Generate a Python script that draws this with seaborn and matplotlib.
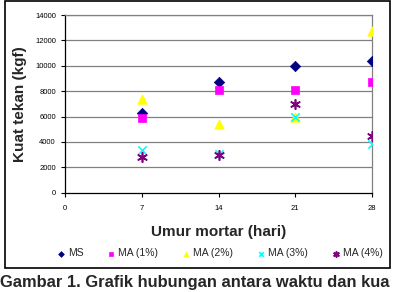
import matplotlib
matplotlib.use("Agg")
import matplotlib.pyplot as plt
import seaborn as sns
import pandas as pd
from matplotlib.patches import Rectangle

# umur mortar (hari) dan kuat tekan (kgf)
umur = [7, 14, 21, 28]
ms = [6250, 8700, 10000, 10350]
ma1 = [5850, 8070, 8080, 8740]
ma2 = [7420, 5420, 5980, 12720]
ma3 = [3400, 3050, 5990, 3840]
ma4 = [2780, 3000, 7010, 4480]

series = ["MS", "MA (1%)", "MA (2%)", "MA (3%)", "MA (4%)"]
colors = ["#000080", "#FF00FF", "#FFFF00", "#00FFFF", "#800080"]
markers = ["D", "s", "^", "x", (6, 2, 0)]
sizes = [28, 36, 46, 36, 46]

sns.set_style("white")
plt.rcParams["font.family"] = ["Liberation Sans", "DejaVu Sans"]

W, H = 396, 292
fig = plt.figure(figsize=(W / 100, H / 100), dpi=100)

# outer chart frame
fig.patches.append(Rectangle((5 / W, (H - 268) / H), 385 / W, 267 / H,
                             transform=fig.transFigure, fill=False,
                             edgecolor="black", linewidth=1.2))

ax = fig.add_axes([65 / W, (H - 192.7) / H, 307 / W, 177.7 / H])

for name, vals, c, m, s in zip(series, [ms, ma1, ma2, ma3, ma4], colors, markers, sizes):
    df = pd.DataFrame({"umur": umur, "kuat": vals})
    if m in ("x",) or isinstance(m, tuple):
        sns.scatterplot(data=df, x="umur", y="kuat", ax=ax, color=c, marker=m,
                        s=s, linewidth=1.2, label=name, zorder=3)
    else:
        sns.scatterplot(data=df, x="umur", y="kuat", ax=ax, color=c, marker=m,
                        s=s, edgecolor=c, linewidth=0.5, label=name, zorder=3)

ax.set_xlim(0, 28)
ax.set_ylim(0, 14000)
ax.set_xticks([0, 7, 14, 21, 28])
ax.set_yticks(range(0, 14001, 2000))
for yv in range(2000, 14001, 2000):
    ax.axhline(yv, color="#808080", linewidth=0.9, zorder=1)
ax.tick_params(axis="both", labelsize=5.5, length=3, width=0.8, direction="out",
               colors="black", bottom=True, left=True)
ax.tick_params(axis="x", pad=6)
for side in ["left", "bottom"]:
    ax.spines[side].set_color("black")
    ax.spines[side].set_linewidth(0.9)
for side in ["top", "right"]:
    ax.spines[side].set_color("#808080")
    ax.spines[side].set_linewidth(0.9)

ax.set_xlabel("Umur mortar (hari)", fontsize=11, fontweight="bold", labelpad=9)
ax.set_ylabel("Kuat tekan (kgf)", fontsize=11, fontweight="bold", labelpad=6)

ax.legend(loc="upper center", bbox_to_anchor=(0.5, -0.29), ncol=5, frameon=False,
          fontsize=7.5, handletextpad=0.1, columnspacing=2.05, markerscale=0.55,
          handlelength=1.2, borderaxespad=0)

fig.text(0.0, (H - 282) / H, "Gambar 1. Grafik hubungan antara waktu dan kua",
         fontsize=11.9, fontweight="bold", va="center", ha="left")

fig.savefig("out.png", dpi=100)
